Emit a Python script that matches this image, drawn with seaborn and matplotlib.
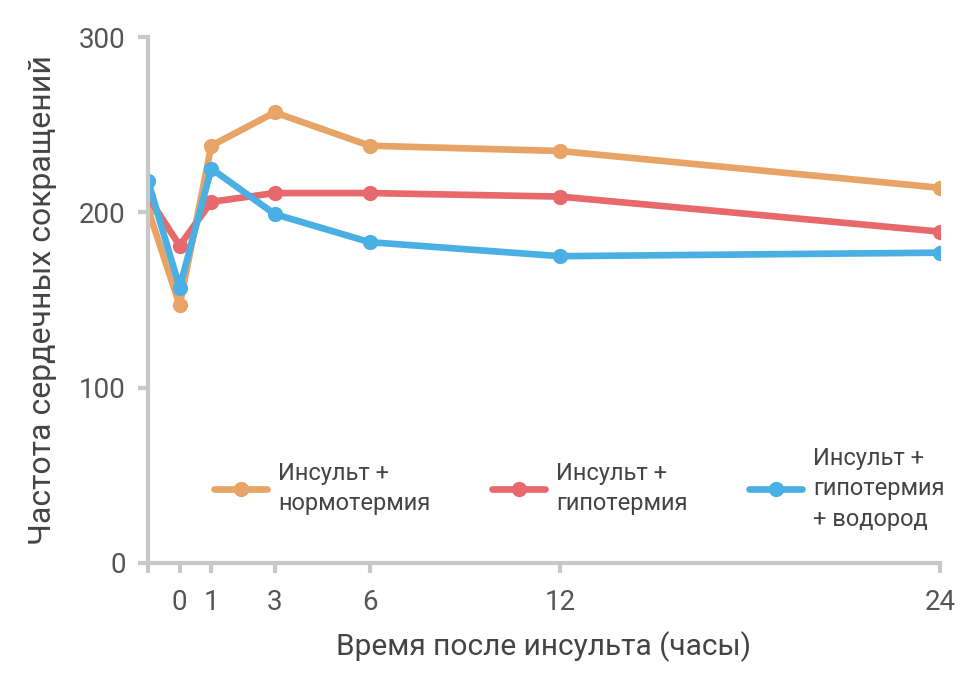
import numpy as np
import pandas as pd
import matplotlib
matplotlib.use("Agg")
import matplotlib.pyplot as plt
import seaborn as sns

# ---- data ----
hours = [-1, 0, 1, 3, 6, 12, 24]
normo = [202, 147, 238, 257, 238, 235, 214]
hypo = [209, 181, 206, 211, 211, 209, 189]
hydro = [218, 157, 225, 199, 183, 175, 177]
groups = ["Инсульт +\nнормотермия", "Инсульт +\nгипотермия", "Инсульт +\nгипотермия\n+ водород"]
colors = ["#E8A466", "#E8696B", "#4AB0E3"]
tick_labels = ["", "0", "1", "3", "6", "12", "24"]

df = pd.DataFrame({
    "hours": hours * 3,
    "hr": normo + hypo + hydro,
    "group": np.repeat(groups, len(hours)),
})

sns.set_theme(style="white")
plt.rcParams["font.family"] = ["Roboto", "DejaVu Sans"]

GREY = "#c8c8c8"
TXT = "#555555"

fig = plt.figure(figsize=(9.76, 6.82), dpi=100)
ax = fig.add_axes([0.1516, 0.1745, 0.963 - 0.1516, 0.9457 - 0.1745])

sns.lineplot(data=df, x="hours", y="hr", hue="group", hue_order=groups,
             palette=colors, marker="o", markersize=11, markeredgewidth=0,
             linewidth=4.8, ax=ax)

ax.set_xlim(-1, 24)
ax.set_ylim(0, 300)
ax.set_xticks(hours)
ax.set_xticklabels(tick_labels)
ax.set_yticks([0, 100, 200, 300])

for s in ["top", "right"]:
    ax.spines[s].set_visible(False)
for s in ["left", "bottom"]:
    ax.spines[s].set_color(GREY)
    ax.spines[s].set_linewidth(3)
ax.tick_params(axis="both", bottom=True, left=True, colors=GREY, length=7, width=3,
               labelcolor=TXT, labelsize=20, pad=9)
ax.tick_params(axis="x", pad=12)

ax.set_xlabel("Время после инсульта (часы)", fontsize=21.5, color="#444444", labelpad=11)
ax.set_ylabel("Частота сердечных сокращений", fontsize=23, color="#444444", labelpad=16)

leg = ax.legend(loc="center", bbox_to_anchor=(0.545, 0.141), ncol=3, frameon=False,
                fontsize=17, handlelength=2.25, columnspacing=2.6, handletextpad=0.47,
                labelcolor="#444444")
for t in leg.get_texts():
    t.set_linespacing(1.4)
# center the handles against multi-line labels, and the columns against each other
leg._legend_handle_box.align = "center"
for col in leg._legend_handle_box.get_children():
    for item in col.get_children():
        item.align = "center"

fig.savefig("out.png", dpi=100)
